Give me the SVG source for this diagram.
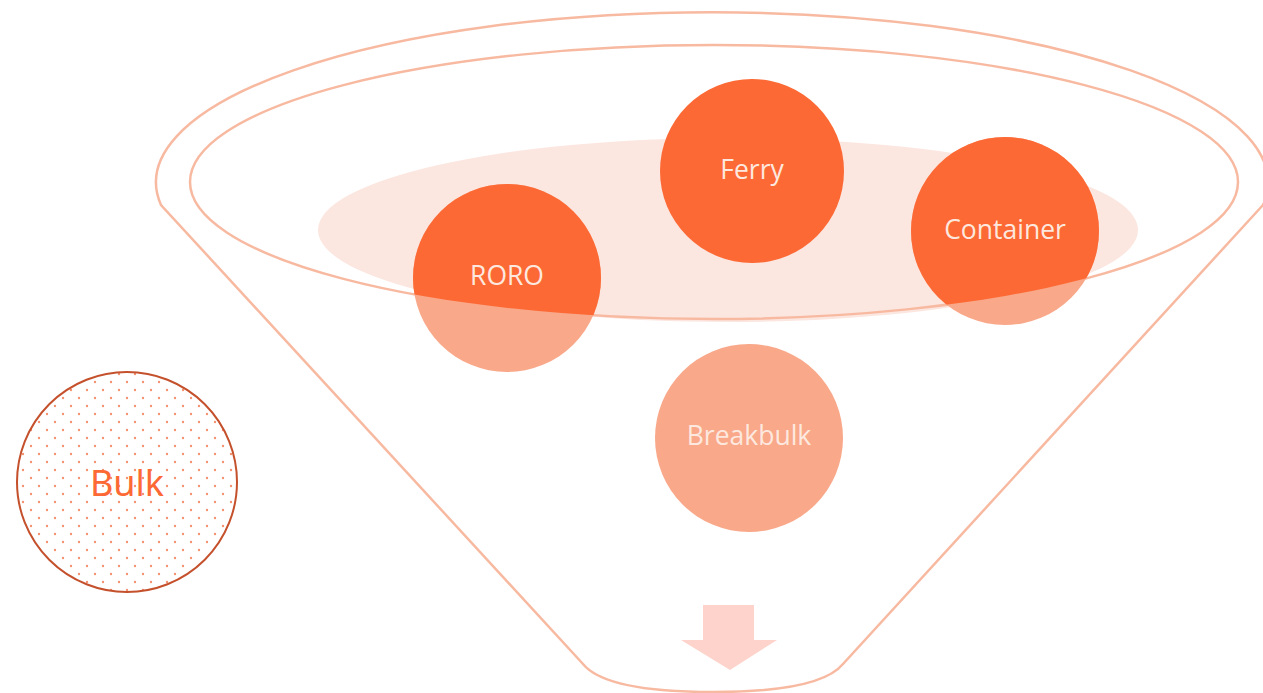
<svg xmlns="http://www.w3.org/2000/svg" width="1263" height="693" viewBox="0 0 1263 693">
<style>
.ln{fill:none;stroke:#f8b9a1;stroke-width:2.5}
.dark{fill:#fd6934}
.light{fill:#f9a88a}
.lbl{font-family:"Open Sans","Noto Sans",sans-serif;font-size:26.5px;fill:#fde8df;text-anchor:middle}
</style>
<defs>
<clipPath id="inner"><ellipse cx="714" cy="182" rx="524" ry="137"/></clipPath>
<pattern id="dots" width="16" height="16" patternUnits="userSpaceOnUse" x="3" y="2">
<circle cx="4" cy="4" r="1.2" fill="#f3926f"/>
<circle cx="12" cy="12" r="1.2" fill="#f3926f"/>
</pattern>
</defs>
<rect width="1263" height="693" fill="#ffffff"/>
<g id="funnel">
<path class="ln" d="M161,205 A556,170 0 1 1 1263,205 L843,664 Q820,692 713,692 Q606,692 583,664 Z"/>
<ellipse cx="728" cy="230" rx="410" ry="92" fill="#fce6e0"/>
<ellipse class="ln" cx="714" cy="182" rx="524" ry="137"/>
<path d="M703,605 H754 V640 H777 L730,670 L681,640 H703 Z" fill="#fdd3cb"/>
</g>
<g id="roro">
<circle class="light" cx="507" cy="278" r="94"/>
<circle class="dark" cx="507" cy="278" r="94" clip-path="url(#inner)"/>
<text class="lbl" x="507" y="285">RORO</text>
</g>
<g id="ferry">
<circle class="dark" cx="752" cy="171" r="92"/>
<text class="lbl" x="752" y="179">Ferry</text>
</g>
<g id="container">
<circle class="light" cx="1005" cy="231" r="94"/>
<circle class="dark" cx="1005" cy="231" r="94" clip-path="url(#inner)"/>
<text class="lbl" x="1005" y="239">Container</text>
</g>
<g id="breakbulk">
<circle class="light" cx="749" cy="438" r="94"/>
<text class="lbl" x="749" y="445">Breakbulk</text>
</g>
<g id="bulk">
<circle cx="127" cy="482" r="110" fill="url(#dots)" stroke="#c4502c" stroke-width="2"/>
<text x="127" y="496" font-family="'Noto Sans','Open Sans',sans-serif" font-size="36" fill="#fd6934" text-anchor="middle">Bulk</text>
</g>
<g id="connectors"></g>
</svg>
